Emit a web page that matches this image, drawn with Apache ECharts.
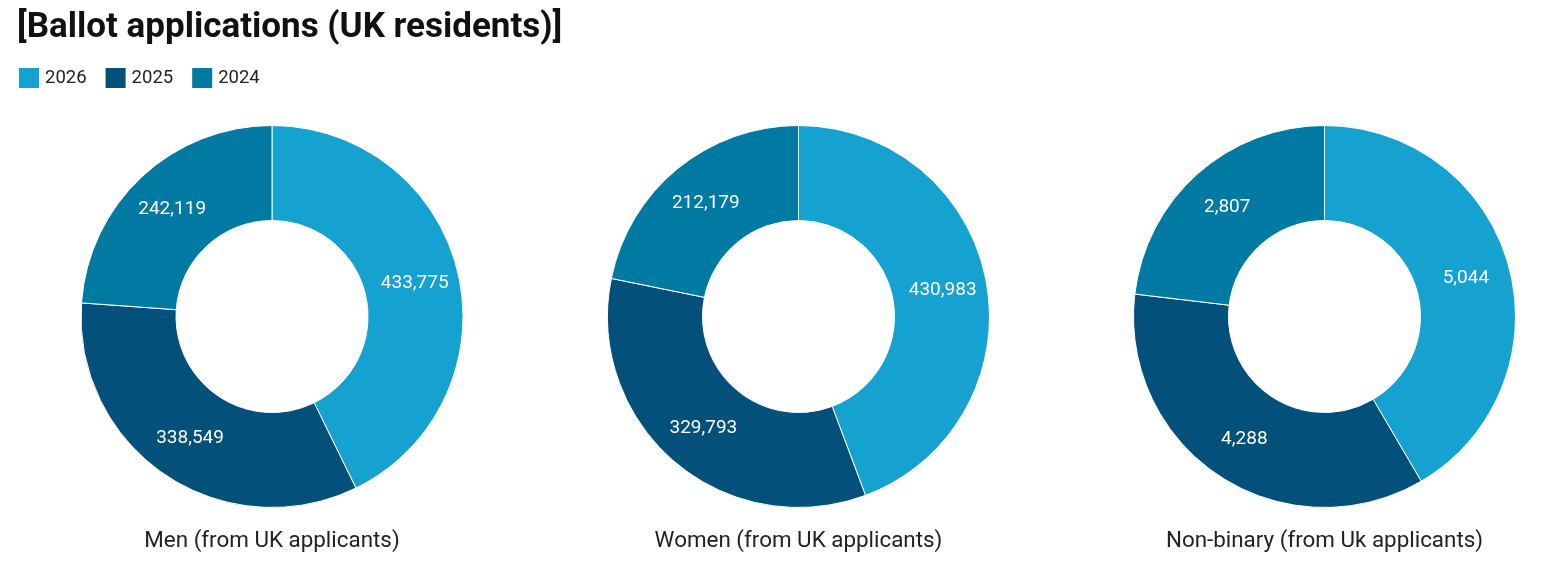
<!DOCTYPE html>
<html><head><meta charset="utf-8">
<script src="https://cdn.jsdelivr.net/npm/echarts@6/dist/echarts.min.js"></script>
<style>html,body{margin:0;padding:0;background:#fff}#c{width:1552px;height:576px}</style>
</head><body><div id="c"></div>
<script>
const years = ['2026', '2025', '2024'];
const groups = ['Men (from UK applicants)', 'Women (from UK applicants)', 'Non-binary (from Uk applicants)'];
const men = [433775, 338549, 242119];
const women = [430983, 329793, 212179];
const nonBinary = [5044, 4288, 2807];
const colors = ['#16A2D0', '#03507A', '#0079A3'];

const values = [men, women, nonBinary];
const centersX = [272, 798.5, 1324.5];
const chart = echarts.init(document.getElementById('c'));
const fmt = v => v.toLocaleString('en-US');
const series = values.map((vals, i) => ({
  type: 'pie',
  name: groups[i],
  center: [centersX[i], 316.5],
  radius: [96, 191],
  startAngle: 90,
  clockwise: true,
  avoidLabelOverlap: false,
  silent: true,
  itemStyle: { borderColor: '#ffffff', borderWidth: 1 },
  label: {
    show: true, position: 'inside', color: '#ffffff',
    fontFamily: 'Roboto', fontSize: 19,
    formatter: p => fmt(p.value)
  },
  labelLine: { show: false },
  data: years.map((y, k) => ({ name: y, value: vals[k] }))
}));
const titles = [{
  text: '[Ballot applications (UK residents)]',
  left: 12, top: 6,
  textStyle: { fontFamily: 'Roboto', fontWeight: 'bold', fontSize: 35, color: '#111' }
}].concat(groups.map((g, i) => ({
  text: g,
  left: centersX[i] - 5, top: 525, textAlign: 'center',
  textStyle: { fontFamily: 'Roboto', fontWeight: 'normal', fontSize: 22.4, color: '#222' }
})));
chart.setOption({
  color: colors,
  animation: false,
  title: titles,
  legend: {
    left: 12, top: 61, icon: 'rect', itemWidth: 22, itemHeight: 22, itemGap: 17,
    textStyle: { fontFamily: 'Roboto', fontSize: 18.5, color: '#222' },
    data: years
  },
  series: series
});
</script></body></html>
